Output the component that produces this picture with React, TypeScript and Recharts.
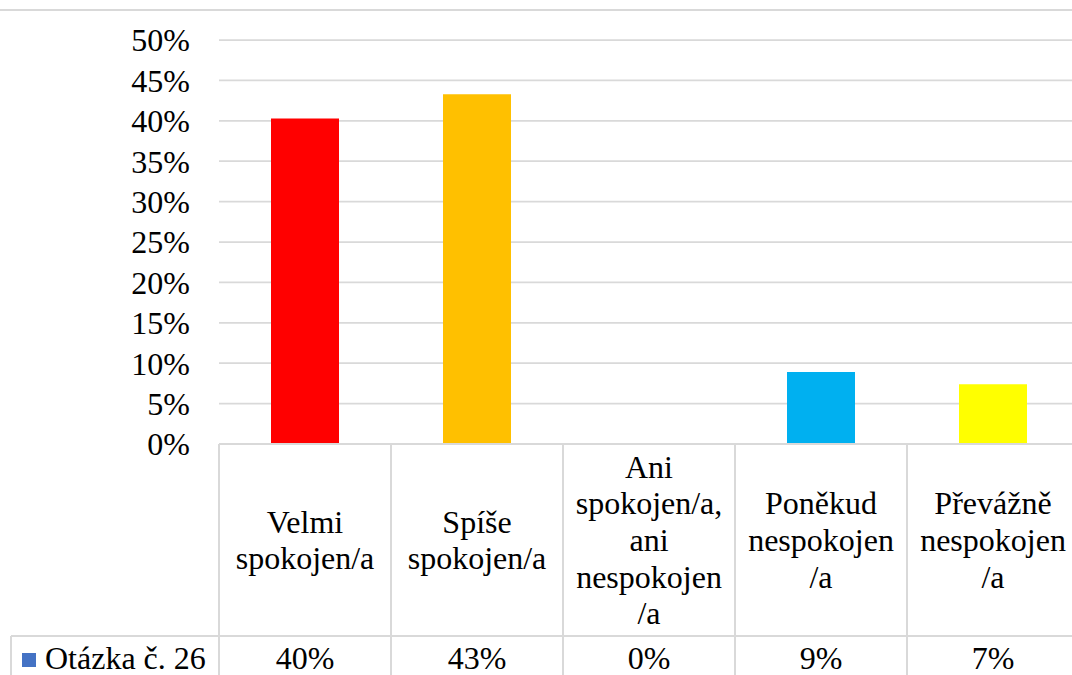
import React from 'react';
import { BarChart, Bar, XAxis, YAxis, CartesianGrid, Cell } from 'recharts';

const categories = [
  'Velmi spokojen/a',
  'Spíše spokojen/a',
  'Ani spokojen/a, ani nespokojen/a',
  'Poněkud nespokojen/a',
  'Převážně nespokojen/a',
];
const tickLabels = [
  ['Velmi', 'spokojen/a'],
  ['Spíše', 'spokojen/a'],
  ['Ani', 'spokojen/a,', 'ani', 'nespokojen', '/a'],
  ['Poněkud', 'nespokojen', '/a'],
  ['Převážně', 'nespokojen', '/a'],
];
const values = [0.403, 0.433, 0, 0.089, 0.074];
const barColors = ['#FF0000', '#FFC000', '#92D050', '#00B0F0', '#FFFF00'];
const yTicks = [0, 0.05, 0.1, 0.15, 0.2, 0.25, 0.3, 0.35, 0.4, 0.45, 0.5];
const seriesName = 'Otázka č. 26';
const seriesColor = '#4472C4';

const FONT = '"Liberation Serif", "Times New Roman", Times, "DejaVu Serif", serif';
const GRID = '#d9d9d9';
const FS = 32;
const LINE_H = 36.6;
const LEGEND_LEFT = 11;
const textStyle = { fontFamily: FONT, fontSize: FS };

const data = categories.map((c, i) => ({ name: c, value: values[i] }));

const pct = (v: number) => `${Math.round(v * 100)}%`;

const TableTick = (props: any) => {
  const { x, y, payload } = props;
  const i: number = props.index ?? payload?.index ?? 0;
  const half: number = payload?.offset || 86;
  const lines = tickLabels[i] || [String(payload?.value ?? '')];
  const midBase = y + 107;
  const first = midBase - ((lines.length - 1) / 2) * LINE_H;
  const rowY = y + 192;
  return (
    <g>
      <line x1={x - half} x2={x - half} y1={y} y2={y + 300} stroke={GRID} strokeWidth={2} />
      {i === categories.length - 1 && (
        <line x1={x + half} x2={x + half} y1={y} y2={y + 300} stroke={GRID} strokeWidth={2} />
      )}
      <line x1={x - half} x2={x + half} y1={rowY} y2={rowY} stroke={GRID} strokeWidth={2} />
      {i === 0 && (
        <g>
          <line x1={LEGEND_LEFT} x2={x - half} y1={rowY} y2={rowY} stroke={GRID} strokeWidth={2} />
          <line x1={LEGEND_LEFT} x2={LEGEND_LEFT} y1={rowY} y2={y + 300} stroke={GRID} strokeWidth={2} />
          <rect x={LEGEND_LEFT + 11} y={rowY + 17} width={14} height={14} fill={seriesColor} />
          <text x={LEGEND_LEFT + 34} y={y + 225} style={textStyle} fill="#000" textAnchor="start">
            {seriesName}
          </text>
        </g>
      )}
      <text textAnchor="middle" style={textStyle} fill="#000">
        {lines.map((l, k) => (
          <tspan key={k} x={x} y={first + k * LINE_H}>
            {l}
          </tspan>
        ))}
      </text>
      <text x={x} y={y + 225} textAnchor="middle" style={textStyle} fill="#000">
        {pct(values[i])}
      </text>
    </g>
  );
};

export default function App() {
  return (
    <div
      style={{
        position: 'fixed',
        left: 0,
        top: 0,
        width: 1072,
        height: 675,
        overflow: 'hidden',
        background: '#fff',
        fontFamily: FONT,
      }}
    >
      <div
        style={{
          position: 'absolute',
          left: 0,
          top: 9,
          width: 1072,
          height: 0,
          borderTop: `2px solid ${GRID}`,
        }}
      />
      <BarChart
        width={1090}
        height={700}
        data={data}
        margin={{ top: 40, right: 11, bottom: 0, left: 0 }}
        style={{ fontFamily: FONT }}
      >
        <CartesianGrid vertical={false} stroke={GRID} strokeWidth={1.75} />
        <YAxis
          domain={[0, 0.5]}
          ticks={yTicks}
          tickFormatter={pct}
          width={219}
          axisLine={false}
          tickLine={false}
          tickSize={0}
          tickMargin={29}
          tick={{ fontSize: FS, fill: '#000', style: textStyle }}
          interval={0}
        />
        <XAxis
          dataKey="name"
          height={256}
          interval={0}
          tickLine={false}
          tickSize={0}
          tickMargin={0}
          axisLine={{ stroke: GRID, strokeWidth: 2 }}
          tick={<TableTick />}
        />
        <Bar dataKey="value" barSize={68} isAnimationActive={false}>
          {data.map((d, i) => (
            <Cell key={d.name} fill={barColors[i]} />
          ))}
        </Bar>
      </BarChart>
    </div>
  );
}
